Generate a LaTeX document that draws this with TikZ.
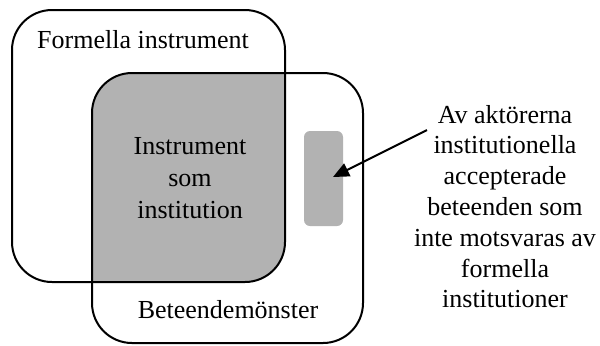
\documentclass[tikz,border=0pt]{standalone}
\usepackage{fontspec}
\setmainfont{Liberation Serif}
\usetikzlibrary{arrows.meta}

\begin{document}
\begin{tikzpicture}[x=0.5pt, y=-0.5pt, line width=1pt,
    box/.style={rounded corners=20pt},
    txt/.style={font=\fontsize{13}{16}\selectfont, align=center, inner sep=0pt}]
        \useasboundingbox (0,0) rectangle (600,345);

        % Overlap (grey)
        \begin{scope}
            \clip[box] (12,10) rectangle (285,282);
            \fill[black!30, box] (92,73) rectangle (363,343);
        \end{scope}

        % Boxes
        \draw[box] (12,10) rectangle (285,282);
        \draw[box] (92,73) rectangle (363,343);

        % Small patch
        \node[fill=black!30, rounded corners=3pt, inner sep=0pt,
              minimum width=19.5pt, minimum height=47.5pt] (patch) at (323.5,178.5) {};

        % Labels
        \node[txt, anchor=base] (formal) at (143,48) {Formella instrument};
        \node[txt] (inst) at (190,178.5) {Instrument\\som\\institution};
        \node[txt, anchor=base] (beh) at (228,318) {Beteendem\"onster};
        \node[txt, font=\fontsize{13}{15.4}\selectfont] (expl) at (505,206.5)
            {Av akt\"orerna\\institutionella\\accepterade\\beteenden som\\inte motsvaras av\\formella\\institutioner};

        % Arrow
        \coordinate (from) at (427,130);
        \coordinate (tip) at (333,177);
        \draw[-{Triangle[length=8pt,width=7pt]}] (from) -- (tip);
\end{tikzpicture}
\end{document}
